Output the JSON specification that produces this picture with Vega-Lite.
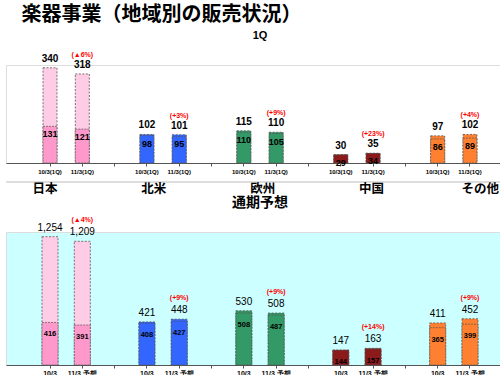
{
  "$schema": "https://vega.github.io/schema/vega-lite/v6.json",
  "title": {"text": "楽器事業（地域別の販売状況）", "anchor": "start", "fontSize": 20, "font": "Noto Sans CJK JP", "fontWeight": "bold", "color": "#000", "dx": 16},
  "vconcat": [
    {
      "width": 508,
      "height": 98,
      "title": {"text": "1Q", "fontSize": 11, "fontWeight": "bold", "color": "#000", "anchor": "middle"},
      "data": {"values": [
        {"region": "日本", "period": "10/3", "key": "日本|10/3", "total": 340, "base": 131, "chg": ""},
        {"region": "日本", "period": "11/3", "key": "日本|11/3", "total": 318, "base": 121, "chg": "(▲6%)"},
        {"region": "北米", "period": "10/3", "key": "北米|10/3", "total": 102, "base": 98, "chg": ""},
        {"region": "北米", "period": "11/3", "key": "北米|11/3", "total": 101, "base": 95, "chg": "(+3%)"},
        {"region": "欧州", "period": "10/3", "key": "欧州|10/3", "total": 115, "base": 110, "chg": ""},
        {"region": "欧州", "period": "11/3", "key": "欧州|11/3", "total": 110, "base": 105, "chg": "(+9%)"},
        {"region": "中国", "period": "10/3", "key": "中国|10/3", "total": 30, "base": 29, "chg": ""},
        {"region": "中国", "period": "11/3", "key": "中国|11/3", "total": 35, "base": 34, "chg": "(+23%)"},
        {"region": "その他", "period": "10/3", "key": "その他|10/3", "total": 97, "base": 86, "chg": ""},
        {"region": "その他", "period": "11/3", "key": "その他|11/3", "total": 102, "base": 89, "chg": "(+4%)"}
      ]},
      "encoding": {
        "x": {"field": "key", "type": "nominal",
          "scale": {"domain": ["日本|10/3","日本|11/3","g1","北米|10/3","北米|11/3","g2","欧州|10/3","欧州|11/3","g3","中国|10/3","中国|11/3","g4","その他|10/3","その他|11/3"], "paddingInner": 0, "paddingOuter": 0.862},
          "axis": {"title": null, "domainColor": "#555", "tickColor": "#555", "tickSize": 3, "labelPadding": 2, "labelFontSize": 6, "labelFontWeight": "bold", "labelColor": "#000", "labelAngle": 0, "grid": false,
            "labelExpr": "indexof(datum.value,'|')>0 ? slice(datum.value, indexof(datum.value,'|')+1) + '(1Q)' : ''"}}
      },
      "layer": [
        {
          "mark": {"type": "bar", "width": 14, "stroke": "#555", "strokeWidth": 0.8, "strokeDash": [2, 1.5]},
          "encoding": {
            "y": {"field": "total", "type": "quantitative", "axis": null},
            "color": {"field": "region", "type": "nominal", "scale": {"domain": ["日本","北米","欧州","中国","その他"], "range": ["#FFCCE6","#3366FF","#339966","#8B1A1A","#FF8030"]}, "legend": null}
          }
        },
        {
          "mark": {"type": "bar", "width": 14, "stroke": "#555", "strokeWidth": 0.7, "strokeDash": [2, 1]},
          "encoding": {
            "y": {"field": "base", "type": "quantitative"},
            "fill": {"field": "region", "type": "nominal", "scale": {"domain": ["日本","北米","欧州","中国","その他"], "range": ["#FF99CC","#3366FF","#339966","#8B1A1A","#FF8030"]}, "legend": null}
          }
        },
        {
          "mark": {"type": "text", "dy": -9, "fontSize": 10, "fontWeight": "bold", "color": "#000"},
          "encoding": {
            "y": {"field": "total", "type": "quantitative"},
            "text": {"field": "total", "type": "quantitative"}
          }
        },
        {
          "mark": {"type": "text", "dy": -19, "fontSize": 7, "fontWeight": "bold", "color": "#FF0000"},
          "encoding": {
            "y": {"field": "total", "type": "quantitative"},
            "text": {"field": "chg", "type": "nominal"}
          }
        },
        {
          "mark": {"type": "text", "baseline": "middle", "dy": 8, "fontSize": 9, "fontWeight": "bold", "color": "#000"},
          "encoding": {
            "y": {"field": "base", "type": "quantitative"},
            "text": {"field": "base", "type": "quantitative"}
          }
        }
      ]
    },
    {
      "width": 508,
      "height": 1,
      "data": {"values": [
        {"key": "日本|11/3", "region": "日本"}, {"key": "北米|11/3", "region": "北米"}, {"key": "欧州|11/3", "region": "欧州"}, {"key": "中国|11/3", "region": "中国"}, {"key": "その他|11/3", "region": "その他"}
      ]},
      "mark": {"type": "text", "text": ""},
      "encoding": {
        "x": {"field": "key", "type": "nominal",
          "scale": {"domain": ["日本|10/3","日本|11/3","g1","北米|10/3","北米|11/3","g2","欧州|10/3","欧州|11/3","g3","中国|10/3","中国|11/3","g4","その他|10/3","その他|11/3"], "paddingInner": 0, "paddingOuter": 0.862},
          "axis": {"title": null, "domain": false, "ticks": false, "labelPadding": 0, "labelFontSize": 12.5, "labelFontWeight": "bold", "labelFont": "Noto Sans CJK JP", "labelColor": "#000", "labelAngle": 0, "labelOffset": -16, "grid": false,
            "labelExpr": "indexof(datum.value,'|11/3')>0 ? slice(datum.value, 0, indexof(datum.value,'|')) : ''"}}
      }
    },
    {
      "width": 508,
      "height": 133,
      "view": {"fill": "#CCFFFF"},
      "title": {"text": "通期予想", "fontSize": 14, "fontWeight": "bold", "font": "Noto Sans CJK JP", "color": "#000", "anchor": "middle", "offset": 2},
      "data": {"values": [
        {"region": "日本", "period": "10/3", "key": "日本|10/3", "total": 1254, "base": 416, "chg": ""},
        {"region": "日本", "period": "11/3", "key": "日本|11/3", "total": 1209, "base": 391, "chg": "(▲4%)"},
        {"region": "北米", "period": "10/3", "key": "北米|10/3", "total": 421, "base": 408, "chg": ""},
        {"region": "北米", "period": "11/3", "key": "北米|11/3", "total": 448, "base": 427, "chg": "(+9%)"},
        {"region": "欧州", "period": "10/3", "key": "欧州|10/3", "total": 530, "base": 508, "chg": ""},
        {"region": "欧州", "period": "11/3", "key": "欧州|11/3", "total": 508, "base": 487, "chg": "(+9%)"},
        {"region": "中国", "period": "10/3", "key": "中国|10/3", "total": 147, "base": 144, "chg": ""},
        {"region": "中国", "period": "11/3", "key": "中国|11/3", "total": 163, "base": 157, "chg": "(+14%)"},
        {"region": "その他", "period": "10/3", "key": "その他|10/3", "total": 411, "base": 365, "chg": ""},
        {"region": "その他", "period": "11/3", "key": "その他|11/3", "total": 452, "base": 399, "chg": "(+9%)"}
      ]},
      "encoding": {
        "x": {"field": "key", "type": "nominal",
          "scale": {"domain": ["日本|10/3","日本|11/3","g1","北米|10/3","北米|11/3","g2","欧州|10/3","欧州|11/3","g3","中国|10/3","中国|11/3","g4","その他|10/3","その他|11/3"], "paddingInner": 0, "paddingOuter": 0.862},
          "axis": {"title": null, "domainColor": "#555", "tickColor": "#555", "tickSize": 3, "labelPadding": 1, "labelFontSize": 7, "labelFontWeight": "bold", "labelColor": "#000", "labelAngle": 0, "grid": false,
            "labelExpr": "indexof(datum.value,'|')>0 ? (slice(datum.value, indexof(datum.value,'|')+1) == '11/3' ? '11/3 予想' : slice(datum.value, indexof(datum.value,'|')+1)) : ''"}}
      },
      "layer": [
        {
          "mark": {"type": "bar", "width": 16, "stroke": "#555", "strokeWidth": 0.8, "strokeDash": [2, 1.5]},
          "encoding": {
            "y": {"field": "total", "type": "quantitative", "axis": null},
            "color": {"field": "region", "type": "nominal", "scale": {"domain": ["日本","北米","欧州","中国","その他"], "range": ["#FFCCE6","#3366FF","#339966","#8B1A1A","#FF8030"]}, "legend": null}
          }
        },
        {
          "mark": {"type": "bar", "width": 16, "stroke": "#555", "strokeWidth": 0.7, "strokeDash": [2, 1]},
          "encoding": {
            "y": {"field": "base", "type": "quantitative"},
            "fill": {"field": "region", "type": "nominal", "scale": {"domain": ["日本","北米","欧州","中国","その他"], "range": ["#FF99CC","#3366FF","#339966","#8B1A1A","#FF8030"]}, "legend": null}
          }
        },
        {
          "mark": {"type": "text", "dy": -9, "fontSize": 10, "color": "#000"},
          "encoding": {
            "y": {"field": "total", "type": "quantitative"},
            "text": {"field": "total", "type": "quantitative", "format": ","}
          }
        },
        {
          "mark": {"type": "text", "dy": -21, "fontSize": 7, "fontWeight": "bold", "color": "#FF0000"},
          "encoding": {
            "y": {"field": "total", "type": "quantitative"},
            "text": {"field": "chg", "type": "nominal"}
          }
        },
        {
          "mark": {"type": "text", "baseline": "middle", "dy": 12, "fontSize": 7.5, "fontWeight": "bold", "color": "#000"},
          "encoding": {
            "y": {"field": "base", "type": "quantitative"},
            "text": {"field": "base", "type": "quantitative"}
          }
        }
      ]
    }
  ],
  "spacing": 0
}
